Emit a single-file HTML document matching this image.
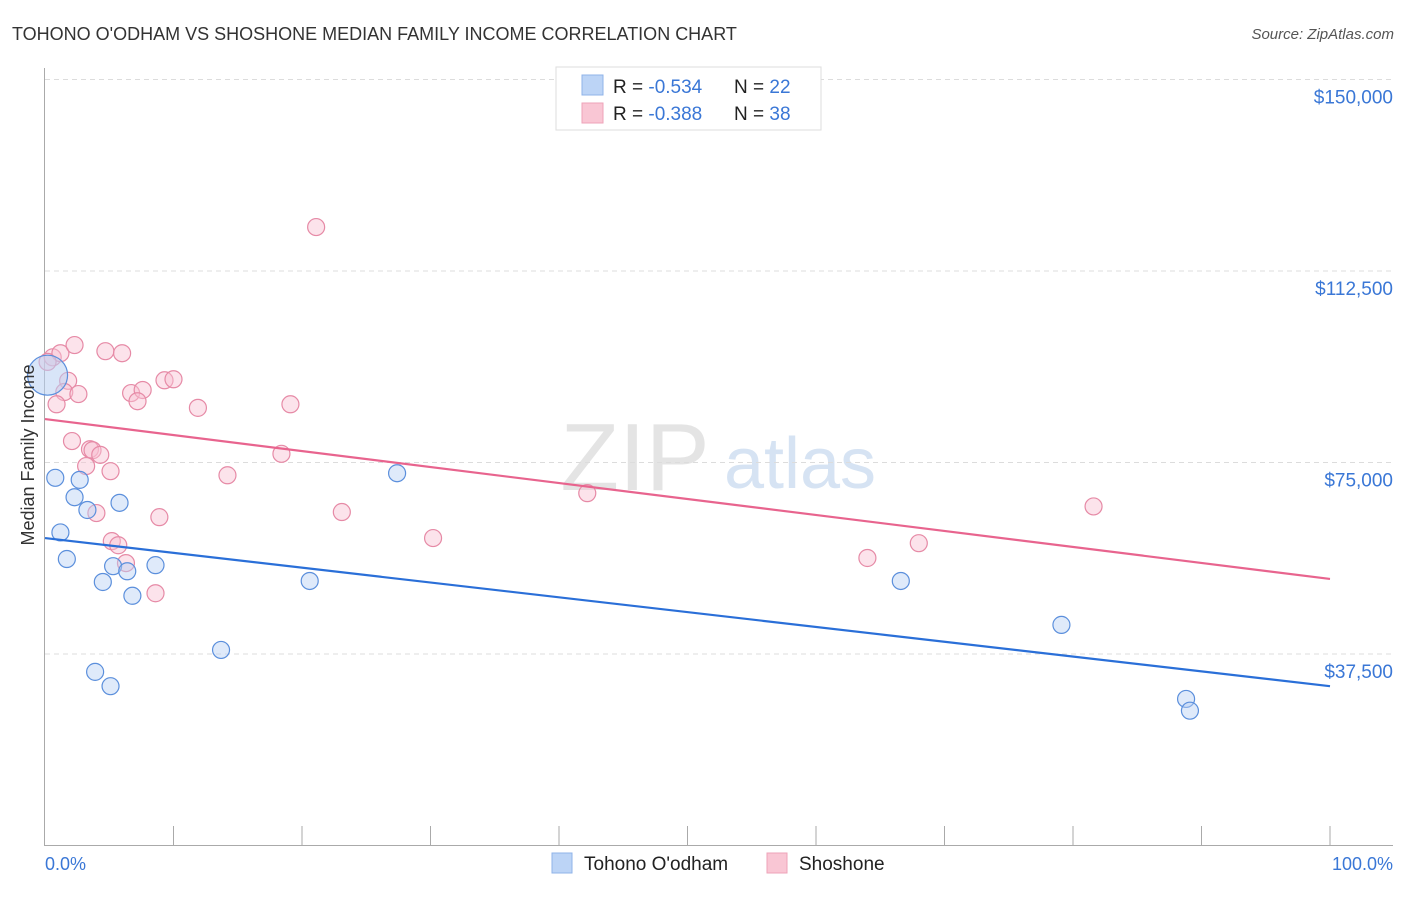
<!DOCTYPE html>
<html><head><meta charset="utf-8"><style>
body{margin:0;background:#fff;font-family:"Liberation Sans",sans-serif;}
svg text{font-family:"Liberation Sans",sans-serif;}
</style></head><body>
<svg id="chart" width="1406" height="892" viewBox="0 0 1406 892" xmlns="http://www.w3.org/2000/svg">
<text x="12" y="40" font-size="18" fill="#333">TOHONO O'ODHAM VS SHOSHONE MEDIAN FAMILY INCOME CORRELATION CHART</text>
<text x="1394" y="39" font-size="15" fill="#555" font-style="italic" text-anchor="end">Source: ZipAtlas.com</text>
<g>
<text x="635" y="490" font-size="96" fill="#e4e4e4" font-family="Liberation Serif" text-anchor="middle">ZIP</text>
<text x="800" y="488" font-size="72" fill="#d6e3f3" text-anchor="middle">atlas</text>
</g>
<g id="grid"></g>
<g id="axes"></g>
<g id="marks"></g>
<text transform="translate(34,455) rotate(-90)" font-size="18" fill="#333" text-anchor="middle">Median Family Income</text>
<text x="45" y="870" font-size="18" fill="#3a77d6">0.0%</text>
<text x="1393" y="870" font-size="18" fill="#3a77d6" text-anchor="end">100.0%</text>
<g>
<rect x="556" y="67" width="265" height="63" fill="#fff" stroke="#ddd"/>
<rect x="582" y="75" width="21" height="20" fill="#bcd4f6" stroke="#8fb3e8"/>
<rect x="582" y="103" width="21" height="20" fill="#f9c6d4" stroke="#eea3b8"/>
<text x="613" y="93" font-size="19" fill="#222">R = <tspan fill="#3a77d6">-0.534</tspan></text>
<text x="734" y="93" font-size="19" fill="#222">N = <tspan fill="#3a77d6">22</tspan></text>
<text x="613" y="120" font-size="19" fill="#222">R = <tspan fill="#3a77d6">-0.388</tspan></text>
<text x="734" y="120" font-size="19" fill="#222">N = <tspan fill="#3a77d6">38</tspan></text>
</g>
<g>
<rect x="552" y="853" width="20" height="20" fill="#bcd4f6" stroke="#8fb3e8"/>
<text x="584" y="870" font-size="19" fill="#222">Tohono O'odham</text>
<rect x="767" y="853" width="20" height="20" fill="#f9c6d4" stroke="#eea3b8"/>
<text x="799" y="870" font-size="19" fill="#222">Shoshone</text>
</g>
</svg>
<script>
const yTicks=[37500,75000,112500,150000];
const yTickLabels=["$37,500","$75,000","$112,500","$150,000"];
const blueX=[0.8,2.7,2.3,3.3,5.8,1.2,1.7,5.3,6.4,8.6,4.5,6.8,20.6,13.7,3.9,5.1,27.4,66.6,79.1,88.8,89.1,0.2];
const blueY=[72.0,71.6,68.2,65.7,67.1,61.3,56.1,54.7,53.7,54.9,51.6,48.9,51.8,38.3,34.0,31.2,72.9,51.8,43.2,28.7,26.4,92.1];
const pinkX=[0.6,1.2,2.3,4.7,6.0,1.8,1.5,2.6,0.9,6.7,7.6,7.2,9.3,10.0,11.9,19.1,21.1,2.1,3.5,3.7,4.3,3.2,5.1,14.2,18.4,4.0,8.9,23.1,30.2,5.2,5.7,6.3,8.6,42.2,64.0,68.0,81.6,0.2];
const pinkY=[95.6,96.4,98.0,96.8,96.4,91.0,88.8,88.4,86.4,88.6,89.2,87.0,91.1,91.3,85.7,86.4,121.1,79.2,77.6,77.4,76.5,74.3,73.3,72.5,76.7,65.1,64.3,65.3,60.2,59.6,58.8,55.3,49.4,69.0,56.3,59.2,66.4,94.7];
const blueTrend=[60.2,31.2];
const pinkTrend=[83.5,52.2];
const NS="http://www.w3.org/2000/svg";
const X0=45,X1=1330,YB=845.5;
function sx(p){return X0+(X1-X0)*p/100;}
function sy(v){return YB-v*191.5/37500;}
function el(t,a,p){const e=document.createElementNS(NS,t);for(const k in a)e.setAttribute(k,a[k]);p.appendChild(e);return e;}
const grid=document.getElementById('grid'),axes=document.getElementById('axes'),marks=document.getElementById('marks');
yTicks.forEach((v,i)=>{
 const g=el('line',{x1:45,x2:1393,y1:sy(v),y2:sy(v),stroke:'#dcdcdc','stroke-dasharray':'5,4'},grid);
 
 
 const t=el('text',{x:1393,y:sy(v)+24,'font-size':19,fill:'#3a77d6','text-anchor':'end'},grid);
 t.textContent=yTickLabels[i];
 
 
});
const ya=el('line',{x1:44.5,x2:44.5,y1:68,y2:846,stroke:'#aaa'},axes);


const xa=el('line',{x1:44,x2:1393,y1:845.5,y2:845.5,stroke:'#aaa'},axes);


for(let i=1;i<=10;i++){
 const tk=el('line',{x1:sx(i*10),x2:sx(i*10),y1:826,y2:846,stroke:'#aaa'},axes);
 
 
}
function pts(xs,ys,fill,stroke,name){
 xs.forEach((x,i)=>{
  const big=(name==='tohono-point'&&i===xs.length-1);
  const c=el('circle',{cx:sx(x),cy:sy(ys[i]*1000),r:big?20:8.5,fill:fill,'fill-opacity':big?0.55:0.45,stroke:stroke,'stroke-width':1.2},marks);
  
  
 });
}
pts(pinkX,pinkY,'#f9c2d2','#e68aa6','shoshone-point');
pts(blueX,blueY,'#b8d0f3','#5b8fdc','tohono-point');
const bl=el('line',{x1:sx(0),y1:sy(blueTrend[0]*1000),x2:sx(100),y2:sy(blueTrend[1]*1000),stroke:'#2a6fd8','stroke-width':2.2},marks);


const pl=el('line',{x1:sx(0),y1:sy(pinkTrend[0]*1000),x2:sx(100),y2:sy(pinkTrend[1]*1000),stroke:'#e8648e','stroke-width':2.2},marks);


</script>
</body></html>
